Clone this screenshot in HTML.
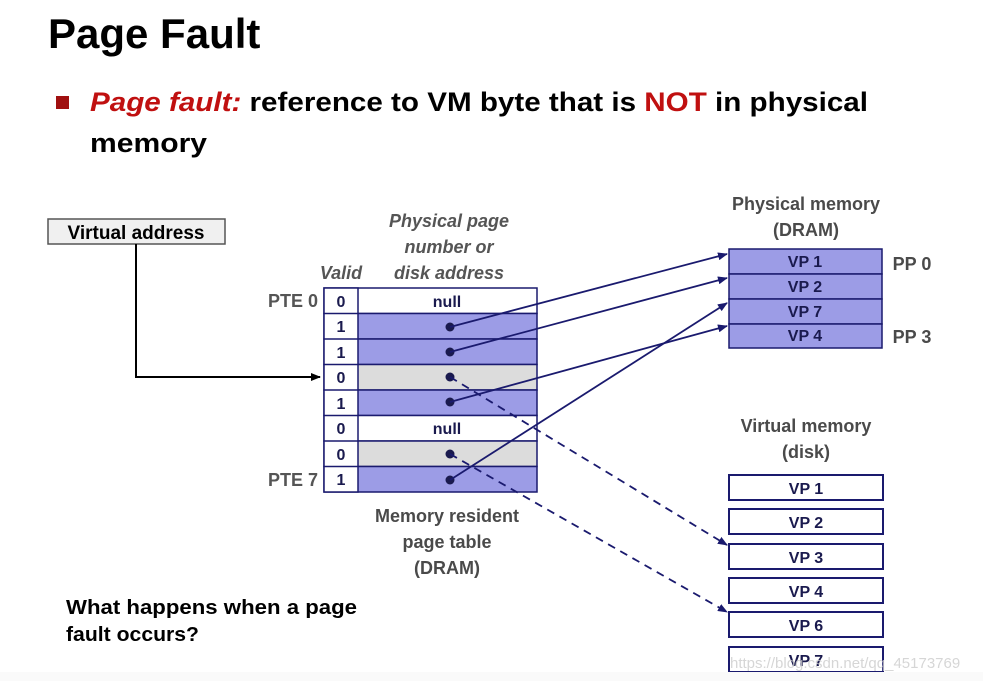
<!DOCTYPE html>
<html><head><meta charset="utf-8"><style>
html,body{margin:0;padding:0;background:#fff;}
svg{display:block;font-family:"Liberation Sans",sans-serif;}
</style></head><body>
<svg width="983" height="681" viewBox="0 0 983 681" xmlns="http://www.w3.org/2000/svg">
<defs>
<marker id="ah" markerWidth="10" markerHeight="8" refX="9" refY="4" orient="auto" markerUnits="userSpaceOnUse"><path d="M0,0 L10,4 L0,8 z" fill="#1a1a6e"/></marker>
<marker id="ak" markerWidth="10" markerHeight="8" refX="9" refY="4" orient="auto" markerUnits="userSpaceOnUse"><path d="M0,0 L10,4 L0,8 z" fill="#000"/></marker>
</defs>
<text x="48" y="48" font-size="42" font-weight="bold" fill="#000">Page Fault</text>
<rect x="56" y="96" width="13" height="13" fill="#a01010"/>
<text x="90" y="111" font-size="27" font-weight="bold" textLength="778" lengthAdjust="spacingAndGlyphs"><tspan fill="#c01010" font-style="italic">Page fault:</tspan><tspan fill="#000"> reference to VM byte that is </tspan><tspan fill="#c01010">NOT</tspan><tspan fill="#000"> in physical</tspan></text>
<text x="90" y="152" font-size="27" font-weight="bold" fill="#000" textLength="117" lengthAdjust="spacingAndGlyphs">memory</text>

<rect x="48" y="219" width="177" height="25" fill="#f0f0f0" stroke="#555" stroke-width="1.5"/>
<text x="136" y="239" font-size="19" font-weight="bold" text-anchor="middle" fill="#000">Virtual address</text>
<polyline points="136,244 136,377 320,377" fill="none" stroke="#000" stroke-width="2" marker-end="url(#ak)"/>

<g font-weight="bold" font-size="18" fill="#555" text-anchor="middle" font-style="italic">
<text x="449" y="227">Physical page</text>
<text x="449" y="253">number or</text>
<text x="449" y="279">disk address</text>
<text x="341" y="279">Valid</text>
</g>
<g font-weight="bold" font-size="18" fill="#555" text-anchor="end">
<text x="318" y="307">PTE 0</text>
<text x="318" y="486">PTE 7</text>
</g>

<g stroke="#1a1a6e" stroke-width="1.5">
<rect x="324" y="288" width="213" height="25.5" fill="#fff"/>
<rect x="324" y="313.5" width="213" height="25.5" fill="#9c9ce6"/>
<rect x="324" y="339" width="213" height="25.5" fill="#9c9ce6"/>
<rect x="324" y="364.5" width="213" height="25.5" fill="#dcdcdc"/>
<rect x="324" y="390" width="213" height="25.5" fill="#9c9ce6"/>
<rect x="324" y="415.5" width="213" height="25.5" fill="#fff"/>
<rect x="324" y="441" width="213" height="25.5" fill="#dcdcdc"/>
<rect x="324" y="466.5" width="213" height="25.5" fill="#9c9ce6"/>
</g>
<rect x="324" y="288" width="34" height="204" fill="#fff" stroke="#1a1a6e" stroke-width="1.5"/>
<g stroke="#1a1a6e" stroke-width="1.5"><line x1="324" y1="313.5" x2="358" y2="313.5"/><line x1="324" y1="339" x2="358" y2="339"/><line x1="324" y1="364.5" x2="358" y2="364.5"/><line x1="324" y1="390" x2="358" y2="390"/><line x1="324" y1="415.5" x2="358" y2="415.5"/><line x1="324" y1="441" x2="358" y2="441"/><line x1="324" y1="466.5" x2="358" y2="466.5"/></g>
<g font-weight="bold" font-size="16" fill="#1a1a4e" text-anchor="middle">
<text x="341" y="307">0</text><text x="341" y="332">1</text><text x="341" y="358">1</text><text x="341" y="383">0</text><text x="341" y="409">1</text><text x="341" y="434">0</text><text x="341" y="460">0</text><text x="341" y="485">1</text>
<text x="447" y="307">null</text><text x="447" y="434">null</text>
</g>
<g fill="#1a1a4e">
<circle cx="450" cy="327" r="4.5"/><circle cx="450" cy="352" r="4.5"/><circle cx="450" cy="377" r="4.5"/><circle cx="450" cy="402" r="4.5"/><circle cx="450" cy="454" r="4.5"/><circle cx="450" cy="480" r="4.5"/>
</g>
<g font-weight="bold" font-size="18" fill="#4a4a4a" text-anchor="middle">
<text x="447" y="522">Memory resident</text>
<text x="447" y="548">page table</text>
<text x="447" y="574">(DRAM)</text>
<text x="806" y="210">Physical memory</text>
<text x="806" y="236">(DRAM)</text>
<text x="806" y="432">Virtual memory</text>
<text x="806" y="458">(disk)</text>
<text x="912" y="270">PP 0</text>
<text x="912" y="343">PP 3</text>
</g>

<g stroke="#1a1a6e" stroke-width="1.5" fill="#9c9ce6">
<rect x="729" y="249" width="153" height="25"/>
<rect x="729" y="274" width="153" height="25"/>
<rect x="729" y="299" width="153" height="25"/>
<rect x="729" y="324" width="153" height="24"/>
</g>
<g font-weight="bold" font-size="16" fill="#1a1a4e" text-anchor="middle">
<text x="805" y="267">VP 1</text><text x="805" y="292">VP 2</text><text x="805" y="317">VP 7</text><text x="805" y="341">VP 4</text>
</g>

<g stroke="#1a1a6e" stroke-width="2" fill="#fff">
<rect x="729" y="475" width="154" height="25"/>
<rect x="729" y="509" width="154" height="25"/>
<rect x="729" y="544" width="154" height="25"/>
<rect x="729" y="578" width="154" height="25"/>
<rect x="729" y="612" width="154" height="25"/>
<rect x="729" y="647" width="154" height="25"/>
</g>
<g font-weight="bold" font-size="16" fill="#1a1a4e" text-anchor="middle">
<text x="806" y="494">VP 1</text><text x="806" y="528">VP 2</text><text x="806" y="563">VP 3</text><text x="806" y="597">VP 4</text><text x="806" y="631">VP 6</text><text x="806" y="666">VP 7</text>
</g>

<g stroke="#1a1a6e" stroke-width="1.8" fill="none" marker-end="url(#ah)">
<line x1="450" y1="327" x2="727" y2="254"/>
<line x1="450" y1="352" x2="727" y2="278"/>
<line x1="450" y1="402" x2="727" y2="326"/>
<line x1="450" y1="480" x2="727" y2="303"/>
<line x1="450" y1="377" x2="727" y2="545" stroke-dasharray="8,6"/>
<line x1="450" y1="454" x2="727" y2="612" stroke-dasharray="8,6"/>
</g>

<text x="66" y="614" font-size="20" font-weight="bold" fill="#000" textLength="291" lengthAdjust="spacingAndGlyphs">What happens when a page</text>
<text x="66" y="641" font-size="20" font-weight="bold" fill="#000" textLength="133" lengthAdjust="spacingAndGlyphs">fault occurs?</text>
<text x="730" y="668" font-size="15" fill="#ccc" opacity="0.8">https://blog.csdn.net/qq_45173769</text>
<rect x="0" y="672" width="983" height="9" fill="#fafafa"/>
</svg>
</body></html>
